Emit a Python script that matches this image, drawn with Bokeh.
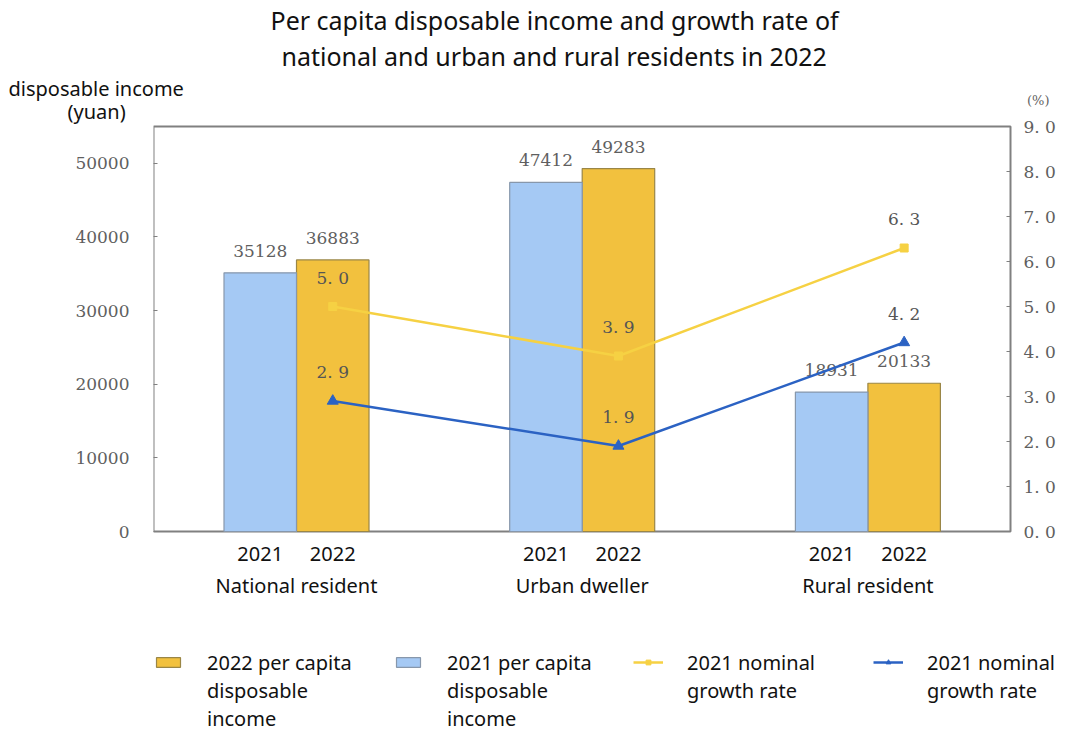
from bokeh.plotting import figure
from bokeh.models import (Range1d, LinearAxis, FixedTicker, CustomJSTickFormatter,
                          Legend, LegendItem, ColumnDataSource, Title)
from bokeh.core.properties import value
from bokeh.embed import file_html
from bokeh.resources import INLINE

# ---------------- data ----------------
groups = ["National resident", "Urban dweller", "Rural resident"]
years = ["2021", "2022"]
income_2021 = [35128, 47412, 18931]
income_2022 = [36883, 49283, 20133]
growth_yellow = [5.0, 3.9, 6.3]
growth_blue = [2.9, 1.9, 4.2]
left_ticks = [0, 10000, 20000, 30000, 40000, 50000]
right_ticks = [0, 1, 2, 3, 4, 5, 6, 7, 8, 9]
title_lines = ["Per capita disposable income and growth rate of",
               "national and urban and rural residents in 2022"]
left_title = ["disposable income", "(yuan)"]
right_title = "(%)"
# legend text, one list per legend line
legend_rows = [["2022 per capita", "2021 per capita", "2021 nominal", "2021 nominal"],
               ["disposable", "disposable", "growth rate", "growth rate"],
               ["income", "income"]]

# ---------------- layout (pixels / bar-width units) ----------------
W, H = 1060, 733
FL, FT = 153, 118            # frame left / top (frame runs to the canvas right and bottom)
BOX_T, BOX_R, BASE = 126, 1010, 531   # chart box top, right edge and zero line, px
UNIT = 72.5                  # px per bar width
G0 = (296 - FL) / UNIT       # first group centre
GSTEP = 285.7 / UNIT         # distance between groups
Y_MAX, P_MAX = 55000, 9
span = BASE - BOX_T
lo = (H - BASE) / span
hi = (BOX_T - FT) / span
box_right = (BOX_R - FL) / UNIT

BLUE_FILL = "#A5C9F4"
YEL_FILL = "#F2C13E"
YEL_LINE = "#F6D143"
BLUE_LINE = "#2B62C3"
AX = "#808080"
NUM_FONT = "DejaVu Serif"
SANS = "Noto Sans"
NUM_COLOR = "#5f5f5f"

centers = [G0 + i * GSTEP for i in range(len(groups))]
x21 = [c - 0.5 for c in centers]
x22 = [c + 0.5 for c in centers]

p = figure(width=W, height=H, x_range=Range1d(0, (W - FL) / UNIT),
           y_range=Range1d(-lo * Y_MAX, (1 + hi) * Y_MAX), x_axis_location=None,
           output_backend="svg", toolbar_location=None, title=None,
           min_border_left=FL, min_border_right=0, min_border_top=FT, min_border_bottom=0)
p.extra_y_ranges = {"pct": Range1d(-lo * P_MAX, (1 + hi) * P_MAX)}
p.grid.visible = False
p.outline_line_color = None

# chart box
p.quad(left=[0], right=[box_right], bottom=[0], top=[Y_MAX], fill_color=None,
       line_color=AX, line_width=2)


# titles (above panel, added from the frame outward)
def add_title(text, align, offset, size, standoff, font=SANS, color="#111111", valign="bottom"):
    t = Title(text=text, align=align, offset=offset, standoff=standoff,
              text_font=font, text_font_size=size, text_color=color,
              text_font_style="normal", vertical_align=valign)
    p.add_layout(t, "above")


add_title(left_title[1], "left", -86, "20px", -12)
add_title(right_title, "right", 11, "13px", -17, NUM_FONT, NUM_COLOR, "top")
add_title(left_title[0], "left", -145, "20px", 0)
add_title(title_lines[1], "left", 128, "25px", 0)
add_title(title_lines[0], "left", 117, "25px", 0)

# x axes (years, then group names), fixed at the zero line
tick_pos = x21 + x22
tick_lab = [years[0]] * len(groups) + [years[1]] * len(groups)
xa = LinearAxis(fixed_location=0, ticker=FixedTicker(ticks=tick_pos),
                formatter=CustomJSTickFormatter(args=dict(t=tick_pos, l=tick_lab),
                    code="const i = t.findIndex(v => Math.abs(v - tick) < 1e-6); return i >= 0 ? l[i] : ''"))
xg = LinearAxis(fixed_location=0, ticker=FixedTicker(ticks=centers),
                formatter=CustomJSTickFormatter(args=dict(t=centers, l=groups),
                    code="const i = t.findIndex(v => Math.abs(v - tick) < 1e-6); return i >= 0 ? l[i] : ''"))
for ax, so in ((xa, 9), (xg, 34)):
    ax.major_tick_line_color = None
    ax.minor_tick_line_color = None
    ax.axis_line_color = None
    ax.major_label_standoff = so
    ax.major_label_text_font = SANS
    ax.major_label_text_font_size = "20px"
    ax.major_label_text_color = "#111111"
    p.add_layout(ax, "below")

# left axis
ya = p.yaxis[0]
ya.ticker = FixedTicker(ticks=left_ticks)
ya.major_tick_in = 4
ya.major_tick_out = 0
ya.minor_tick_line_color = None
ya.major_tick_line_color = AX
ya.axis_line_color = None
ya.major_label_standoff = 24
ya.major_label_text_font = NUM_FONT
ya.major_label_text_font_size = "17px"
ya.major_label_text_color = NUM_COLOR

# right axis, fixed at the box's right edge
ra = LinearAxis(y_range_name="pct", fixed_location=box_right, ticker=FixedTicker(ticks=right_ticks),
                formatter=CustomJSTickFormatter(code="return tick.toFixed(1).replace('.', '. ')"))
ra.major_tick_in = 4
ra.major_tick_out = 0
ra.minor_tick_line_color = None
ra.major_tick_line_color = AX
ra.axis_line_color = None
ra.major_label_standoff = 13
ra.major_label_text_font = NUM_FONT
ra.major_label_text_font_size = "17px"
ra.major_label_text_color = NUM_COLOR
p.add_layout(ra, "right")

# bars
src21 = ColumnDataSource(dict(x=x21, top=income_2021, lab=[str(v) for v in income_2021]))
src22 = ColumnDataSource(dict(x=x22, top=income_2022, lab=[str(v) for v in income_2022]))
b22 = p.vbar(x="x", top="top", width=1.0, source=src22, fill_color=YEL_FILL, line_color="#9a8646", line_width=1.2)
b21 = p.vbar(x="x", top="top", width=1.0, source=src21, fill_color=BLUE_FILL, line_color="#8797ab", line_width=1.2)
for s in (src21, src22):
    p.text(x="x", y="top", text="lab", source=s, text_align="center", text_baseline="middle",
           y_offset=-22, text_font=value(NUM_FONT), text_font_size="17px", text_color=NUM_COLOR)

# lines
ly = p.line(x22, growth_yellow, y_range_name="pct", line_color=YEL_LINE, line_width=2.5)
my = p.scatter(x22, growth_yellow, y_range_name="pct", marker="square", size=8,
               fill_color=YEL_LINE, line_color=YEL_LINE)
lb = p.line(x22, growth_blue, y_range_name="pct", line_color=BLUE_LINE, line_width=2.5)
mb = p.scatter(x22, growth_blue, y_range_name="pct", marker="triangle", size=11,
               fill_color=BLUE_LINE, line_color=BLUE_LINE)
for vals in (growth_yellow, growth_blue):
    p.text(x=x22, y=vals, text=[f"{v:.1f}".replace(".", ". ") for v in vals], y_range_name="pct",
           text_align="center", text_baseline="middle", y_offset=-29,
           text_font=value(NUM_FONT), text_font_size="17px", text_color="#555555")

# legend: one Legend per text line (rows placed from the frame bottom upward)
blank = p.line(x=[], y=[], line_alpha=0)
first_renderers = [[b22], [b21], [ly, my], [lb, mb]]
row_offsets = [57, 29, 1]
for r, row in enumerate(legend_rows):
    items = []
    for i, lab in enumerate(row):
        rends = first_renderers[i] if r == 0 else [blank]
        items.append(LegendItem(label=lab, renderers=rends))
    lg = Legend(items=items, orientation="horizontal", location=(0, row_offsets[r]),
                border_line_color=None, background_fill_alpha=0,
                label_text_font=SANS, label_text_font_size="20px", label_text_color="#111111",
                glyph_width=30, glyph_height=12, label_standoff=24, label_width=152,
                label_height=28, spacing=34, padding=0, margin=0)
    p.add_layout(lg, "center")

open("out.html", "w").write(file_html(p, INLINE))
